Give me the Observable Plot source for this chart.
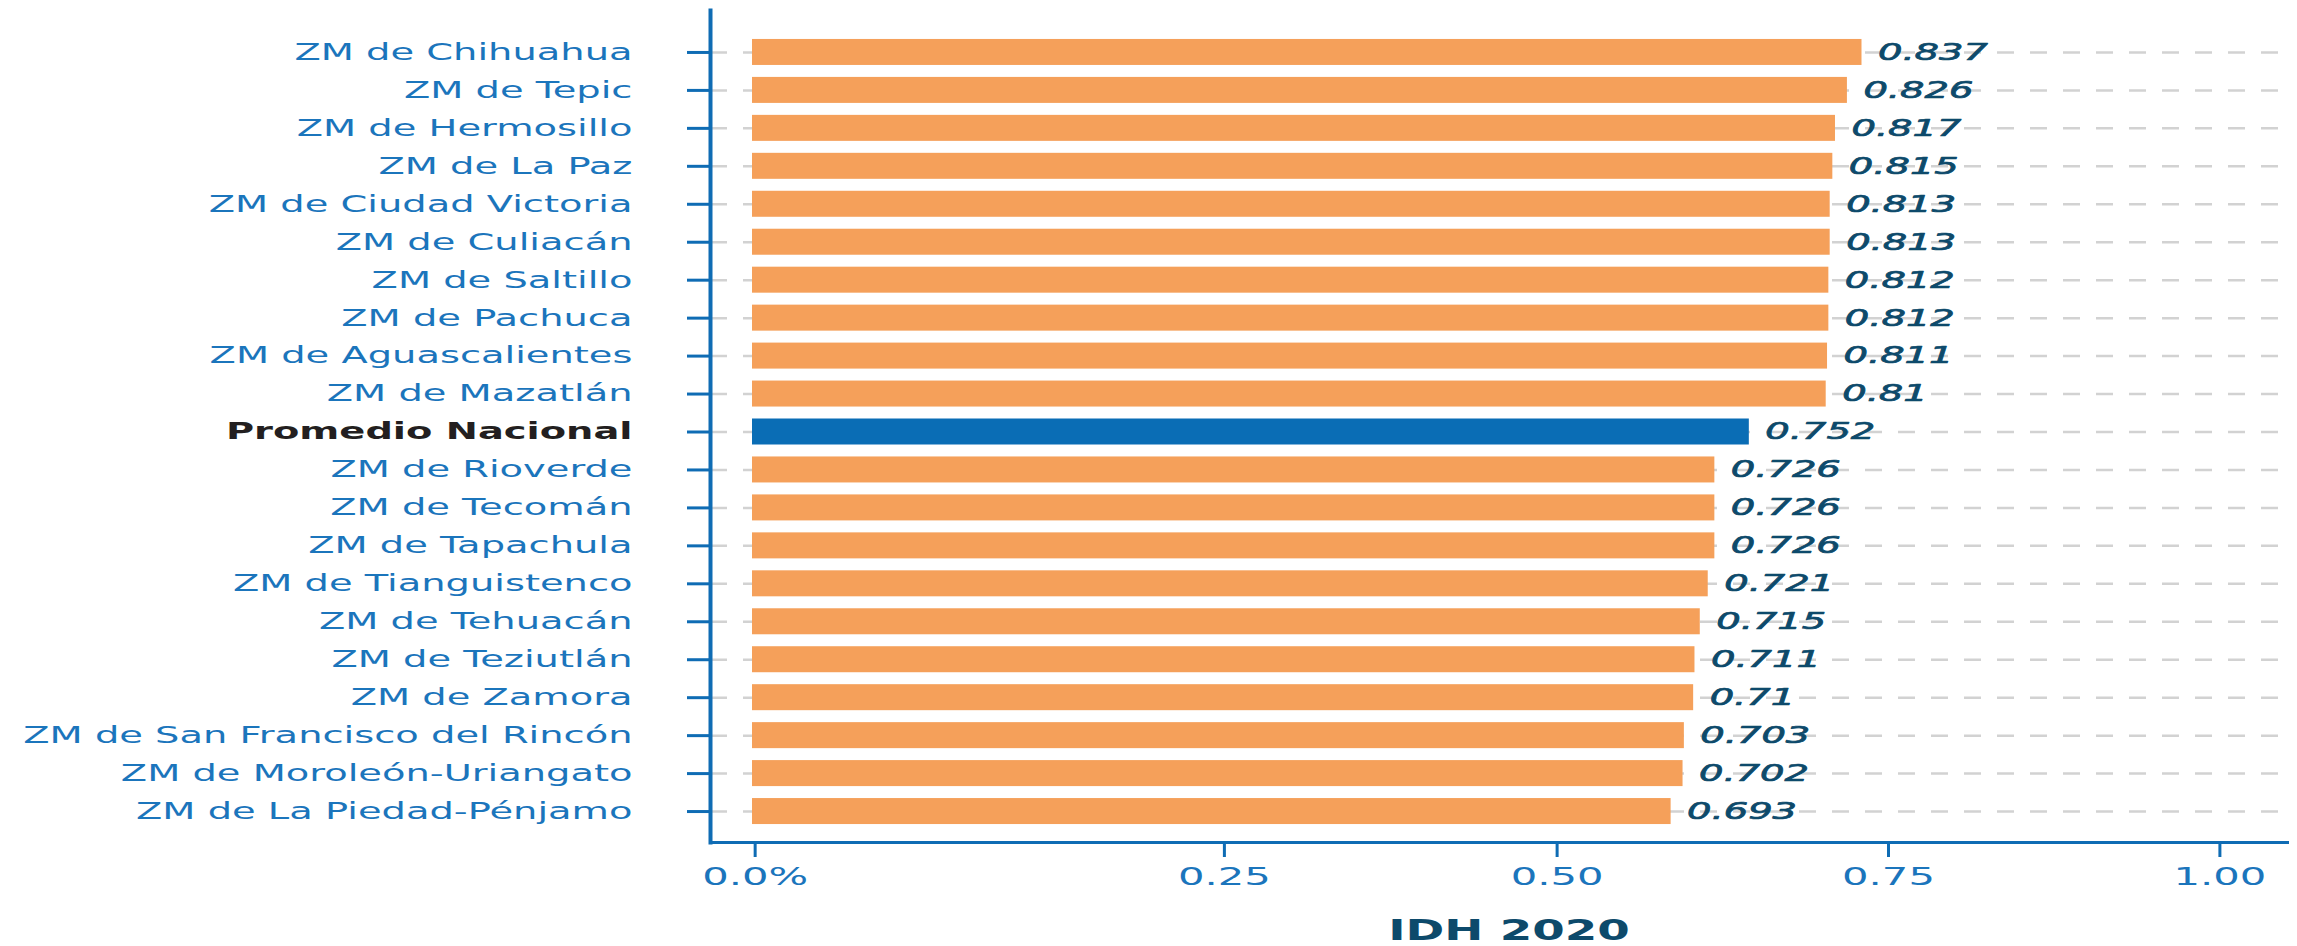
<!DOCTYPE html>
<html>
<head>
<meta charset="utf-8">
<script src="https://cdn.jsdelivr.net/npm/d3@7"></script>
<script src="https://cdn.jsdelivr.net/npm/@observablehq/plot@0.6"></script>
<style>
  html, body { margin: 0; padding: 0; background: #ffffff; }
</style>
</head>
<body>
<div id="chart"></div>
<script>
// ---- data ----
const names = [
  "ZM de Chihuahua", "ZM de Tepic", "ZM de Hermosillo", "ZM de La Paz",
  "ZM de Ciudad Victoria", "ZM de Culiacán", "ZM de Saltillo", "ZM de Pachuca",
  "ZM de Aguascalientes", "ZM de Mazatlán", "Promedio Nacional", "ZM de Rioverde",
  "ZM de Tecomán", "ZM de Tapachula", "ZM de Tianguistenco", "ZM de Tehuacán",
  "ZM de Teziutlán", "ZM de Zamora", "ZM de San Francisco del Rincón",
  "ZM de Moroleón-Uriangato", "ZM de La Piedad-Pénjamo"
];
const values = [
  0.837, 0.826, 0.817, 0.815, 0.813, 0.813, 0.812, 0.812, 0.811, 0.81,
  0.752, 0.726, 0.726, 0.726, 0.721, 0.715, 0.711, 0.71, 0.703, 0.702, 0.693
];
const highlight = "Promedio Nacional";
// tick marks as drawn in the source image (positions in bar units) and their labels
const tickPositions = [0.002, 0.356, 0.607, 0.857, 1.107];
const tickLabels = ["0.0%", "0.25", "0.50", "0.75", "1.00"];
const axisTitle = "IDH 2020";

// ---- build ----
const rows = names.map((name, i) => ({name, value: values[i]}));
const tickText = new Map(tickPositions.map((p, i) => [p, tickLabels[i]]));

const LABEL_BLUE = "#1b75bc";
const AXIS_BLUE = "#0f6cb4";
const ORANGE = "#f5a05a";
const NAVY_BAR = "#0a6db5";
const VALUE_NAVY = "#0d4a6b";
const FONT = "DejaVu Sans";
const SX = 1.67; // horizontal stretch of glyphs, as in the source image

const chart = Plot.plot({
  width: 2297,
  height: 946,
  marginTop: 10,
  marginBottom: 104,
  marginLeft: 710,
  marginRight: 10,
  style: {fontFamily: FONT, background: "#ffffff", overflow: "visible"},
  x: {domain: [0, 1.158], insetLeft: 42, round: false},
  y: {domain: names, padding: 0.315, insetTop: 17, insetBottom: 6, round: false},
  marks: [
    Plot.gridY({stroke: "#d2d2d2", strokeOpacity: 1, strokeWidth: 2.5, strokeDasharray: "17,16"}),
    Plot.barX(rows.filter(d => d.name !== highlight), {x: "value", y: "name", fill: ORANGE}),
    Plot.barX(rows.filter(d => d.name === highlight), {x: "value", y: "name", fill: NAVY_BAR}),
    Plot.axisY({tickSize: 23, tickFormat: () => "", stroke: AXIS_BLUE, strokeWidth: 3, label: null}),
    Plot.axisX({
      ticks: tickPositions,
      tickFormat: d => tickText.get(d),
      tickSize: 15,
      tickPadding: 10,
      stroke: AXIS_BLUE,
      strokeWidth: 3,
      fill: LABEL_BLUE,
      fontSize: 25,
      label: null
    }),
    Plot.frame({anchor: "left", stroke: AXIS_BLUE, strokeWidth: 4}),
    Plot.frame({anchor: "bottom", stroke: AXIS_BLUE, strokeWidth: 3}),
    Plot.text(names.filter(n => n !== highlight), {
      y: d => d, text: d => d, frameAnchor: "left", textAnchor: "end",
      dx: -78, fill: LABEL_BLUE, fontSize: 23
    }),
    Plot.text(names.filter(n => n === highlight), {
      y: d => d, text: d => d, frameAnchor: "left", textAnchor: "end",
      dx: -78, fill: "#231f20", fontSize: 23, fontWeight: "bold"
    }),
    Plot.text(rows, {
      x: "value", y: "name", text: d => String(d.value), dx: 16, textAnchor: "start",
      fill: VALUE_NAVY, stroke: VALUE_NAVY, strokeWidth: 0.7,
      fontSize: 23, fontStyle: "italic"
    }),
    Plot.text([axisTitle], {
      frameAnchor: "bottom", text: d => d, dy: 97, dx: 10,
      fill: VALUE_NAVY, fontSize: 28, fontWeight: "bold"
    })
  ]
});

// stretch glyphs horizontally around each text's anchor point
d3.select(chart).selectAll("text").attr("transform", function () {
  const t = this.getAttribute("transform");
  return (t ? t + " " : "") + `scale(${SX},1)`;
});

document.getElementById("chart").appendChild(chart);
</script>
</body>
</html>
